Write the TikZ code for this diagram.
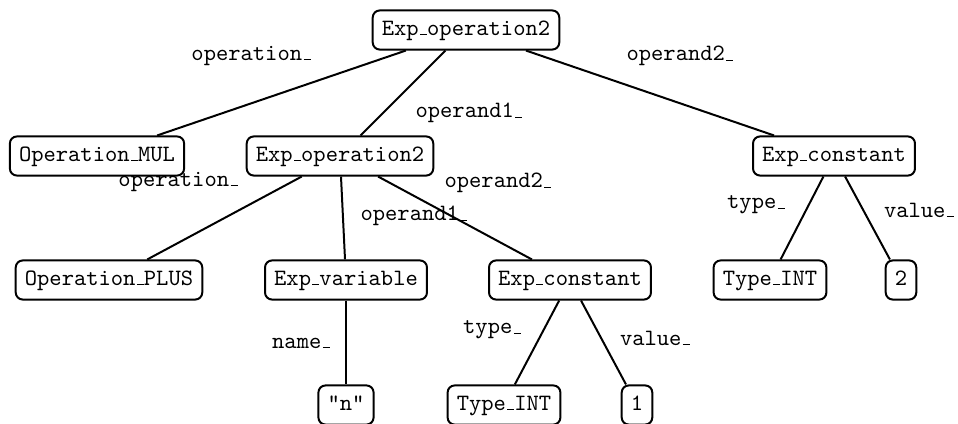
\documentclass[tikz,border=0pt]{standalone}
\newcommand{\us}{\leavevmode\kern.06em\vbox{\hrule width.3em height 0.5pt}}
\tikzset{
  tn/.style={draw, rounded corners=3pt, line width=0.85pt, font=\ttfamily,
    inner xsep=3.9pt, inner ysep=4.2pt, text height=6.3pt, text depth=2pt},
  elab/.style={font=\ttfamily, inner sep=0pt},
  edge/.style={line width=0.85pt}
}
\begin{document}
\begin{tikzpicture}[x=0.427pt, y=-0.427pt]
\useasboundingbox (0,0) rectangle (958,424);
\node[tn] (r) at (466,30) {Exp\us operation2};
\node[tn] (mul) at (97,156) {Operation\us MUL};
\node[tn] (op2) at (340,156) {Exp\us operation2};
\node[tn] (c2) at (834,156) {Exp\us constant};
\node[tn] (plus) at (109,280) {Operation\us PLUS};
\node[tn] (var) at (346,280) {Exp\us variable};
\node[tn] (c1) at (570,280) {Exp\us constant};
\node[tn] (t2) at (770,280) {Type\us INT};
\node[tn] (v2) at (901,280) {2};
\node[tn] (n) at (346,405) {"n"};
\node[tn] (t1) at (504,405) {Type\us INT};
\node[tn] (v1) at (637,405) {1};

\draw[edge] (r) -- (mul);
\draw[edge] (r) -- (op2);
\draw[edge] (r) -- (c2);
\draw[edge] (op2) -- (plus);
\draw[edge] (op2) -- (var);
\draw[edge] (op2) -- (c1);
\draw[edge] (c2) -- (t2);
\draw[edge] (c2) -- (v2);
\draw[edge] (var) -- (n);
\draw[edge] (c1) -- (t1);
\draw[edge] (c1) -- (v1);

\node[elab] (l1) at (251,56) {operation\us};
\node[elab] (l2) at (469,113) {operand1\us};
\node[elab] (l3) at (680,56) {operand2\us};
\node[elab] (l4) at (178,182) {operation\us};
\node[elab] (l5) at (498,183) {operand2\us};
\node[elab] (l6) at (414,216) {operand1\us};
\node[elab] (l7) at (756,205) {type\us};
\node[elab] (l8) at (919,210) {value\us};
\node[elab] (l9) at (301,343) {name\us};
\node[elab] (l10) at (492,330) {type\us};
\node[elab] (l11) at (655,338) {value\us};
\end{tikzpicture}
\end{document}
